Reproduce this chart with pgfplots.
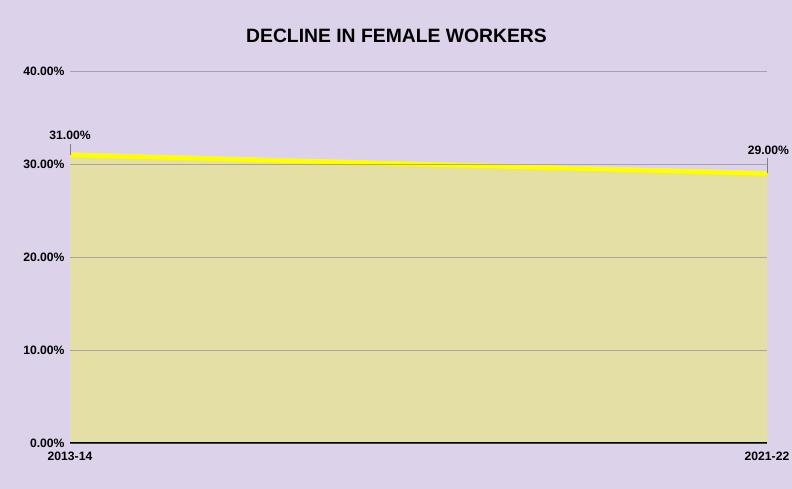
\documentclass[border=0pt]{standalone}
\usepackage{pgfplots}
\pgfplotsset{compat=1.18}
\usepackage{fontspec}
\setmainfont{Liberation Sans}
\definecolor{bgc}{HTML}{DCD3EA}
\definecolor{fillc}{HTML}{E3DFA5}
\definecolor{linec}{HTML}{FFFF00}
\definecolor{gridc}{HTML}{7F7690}
\begin{document}
\begin{tikzpicture}
\useasboundingbox (0,0) rectangle (792bp,489bp);
\fill[bgc] (0,0) rectangle (792bp,489bp);
\node[font=\fontsize{19.4}{22}\selectfont\bfseries] at (396.5bp,453bp) {DECLINE IN FEMALE WORKERS};
\begin{axis}[
  at={(70bp,46bp)}, anchor=south west,
  scale only axis, width=697bp, height=372bp,
  xmin=0, xmax=1, ymin=0, ymax=40,
  xtick={0,1}, xticklabels={2013-14,2021-22},
  ytick={0,10,20,30,40},
  yticklabels={0.00\%,10.00\%,20.00\%,30.00\%,40.00\%},
  axis line style={draw=none},
  tick style={draw=none},
  ymajorgrids,
  major grid style={gridc, opacity=0.55, line width=0.8bp},
  axis on top,
  ticklabel style={font=\fontsize{12.2}{13}\selectfont\bfseries},
  xticklabel style={yshift=-5bp},
  yticklabel style={xshift=-2bp},
  clip=false,
]
\addplot[draw=none, fill=fillc] coordinates {(0,31) (1,29)} \closedcycle;
\addplot[linec, line width=4.8bp] coordinates {(0,31) (1,29)};
\draw[black, line width=1.2bp] (axis cs:0,0) -- (axis cs:1,0);
\draw[gray, line width=0.6bp] (axis cs:0,31) -- (axis cs:0,32.2);
\draw[gray, line width=0.6bp] (axis cs:1,29) -- (axis cs:1,30.6);
\node[font=\fontsize{12.2}{13}\selectfont\bfseries, anchor=south] at (axis cs:0,32.2) {31.00\%};
\node[font=\fontsize{12.2}{13}\selectfont\bfseries, anchor=south] at (axis cs:1.002,30.6) {29.00\%};
\end{axis}
\end{tikzpicture}
\end{document}
